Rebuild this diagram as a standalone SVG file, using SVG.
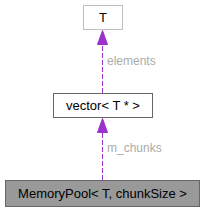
<svg xmlns="http://www.w3.org/2000/svg" width="205" height="212" viewBox="0 0 205 212">
<style>
.lbl{font-family:"Liberation Sans",Arial,sans-serif;font-size:13px;text-anchor:middle;fill:#000}
.elbl{font-family:"Liberation Sans",Arial,sans-serif;font-size:12px;fill:#ababab}
.edge{stroke:#9a32cd;stroke-dasharray:5,2;fill:none;marker-end:url(#ah)}
</style>
<defs>
<marker id="ah" markerWidth="15" markerHeight="11" refX="14" refY="0" viewBox="0 -5.5 15 11" orient="auto" markerUnits="userSpaceOnUse">
<polygon points="0,-5 14,0 0,5" fill="#9a32cd" stroke="#9a32cd" stroke-dasharray="none"/>
</marker>
</defs>
<rect width="205" height="212" fill="#fff"/>
<g id="connectors">
<path class="edge" d="M102.5,180V118.5"/>
<text class="elbl" x="107" y="152">m_chunks</text>
<path class="edge" d="M102.5,93V30.5"/>
<text class="elbl" x="107" y="65">elements</text>
</g>
<g id="T">
<rect x="83.5" y="5.5" width="39" height="24" fill="#fff" stroke="#bfbfbf"/>
<text class="lbl" x="103" y="22">T</text>
</g>
<g id="vector">
<rect x="53.5" y="93.5" width="99" height="24" fill="#fff" stroke="#666"/>
<text class="lbl" x="103" y="110">vector&lt; T * &gt;</text>
</g>
<g id="MemoryPool">
<rect x="5.5" y="180.5" width="194" height="26" fill="#999" stroke="#666"/>
<text class="lbl" x="102.5" y="198">MemoryPool&lt; T, chunkSize &gt;</text>
</g>
</svg>
